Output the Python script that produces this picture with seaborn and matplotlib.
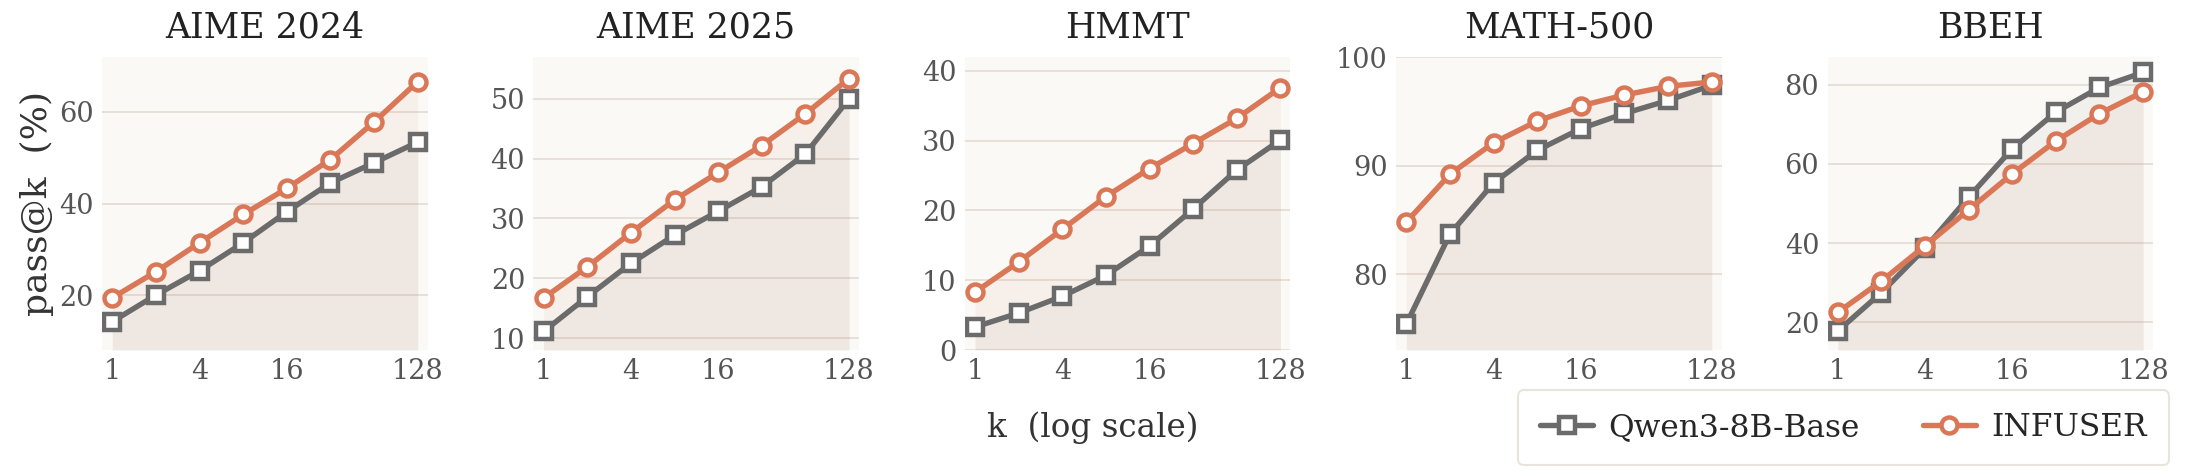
import matplotlib
matplotlib.use("Agg")
import matplotlib.pyplot as plt
import seaborn as sns
import pandas as pd

k = [1, 2, 4, 8, 16, 32, 64, 128]

benchmarks = ["AIME 2024", "AIME 2025", "HMMT", "MATH-500", "BBEH"]

base_aime24 = [14.2, 20.0, 25.3, 31.4, 38.2, 44.5, 48.9, 53.4]
infuser_aime24 = [19.4, 25.1, 31.4, 37.6, 43.3, 49.6, 57.8, 66.6]

base_aime25 = [11.1, 16.9, 22.5, 27.2, 31.2, 35.3, 40.8, 50.0]
infuser_aime25 = [16.7, 21.9, 27.6, 33.1, 37.7, 42.2, 47.5, 53.4]

base_hmmt = [3.3, 5.3, 7.7, 10.7, 14.9, 20.2, 25.8, 30.1]
infuser_hmmt = [8.3, 12.6, 17.3, 22.0, 26.0, 29.6, 33.2, 37.6]

base_math500 = [75.4, 83.7, 88.4, 91.4, 93.4, 94.8, 96.0, 97.4]
infuser_math500 = [84.8, 89.2, 92.1, 94.1, 95.5, 96.5, 97.3, 97.7]

base_bbeh = [17.8, 27.5, 38.7, 51.6, 63.8, 73.1, 79.3, 83.1]
infuser_bbeh = [22.5, 30.4, 39.3, 48.4, 57.5, 65.8, 72.7, 78.2]

base_all = [base_aime24, base_aime25, base_hmmt, base_math500, base_bbeh]
infuser_all = [infuser_aime24, infuser_aime25, infuser_hmmt, infuser_math500, infuser_bbeh]

ylims = [(8, 72), (8, 57), (0, 42), (73, 100), (13, 87)]
yticks = [[20, 40, 60], [10, 20, 30, 40, 50], [0, 10, 20, 30, 40], [80, 90, 100], [20, 40, 60, 80]]

gray = "#6b6b6b"
orange = "#d97757"

sns.set_theme(style="whitegrid")
plt.rcParams["font.family"] = ["DejaVu Serif"]

fig, axes = plt.subplots(1, 5, figsize=(21.85, 4.7), dpi=100)
fig.subplots_adjust(left=0.0467, right=0.9854, top=0.8787, bottom=0.2553, wspace=0.325)

for i, ax in enumerate(axes):
    ax.set_facecolor("#faf9f6")
    lo = ylims[i][0]
    ax.fill_between(k, lo, infuser_all[i], color=orange, alpha=0.07, lw=0, zorder=1)
    ax.fill_between(k, lo, base_all[i], color=gray, alpha=0.06, lw=0, zorder=1)
    sns.lineplot(x=k, y=base_all[i], ax=ax, color=gray, lw=3.9, marker="s",
                 markersize=11, markerfacecolor="white", markeredgecolor=gray,
                 markeredgewidth=3.2, label="Qwen3-8B-Base", zorder=3)
    sns.lineplot(x=k, y=infuser_all[i], ax=ax, color=orange, lw=3.9, marker="o",
                 markersize=11.5, markerfacecolor="white", markeredgecolor=orange,
                 markeredgewidth=3.2, label="INFUSER", zorder=4)
    ax.set_xscale("log", base=2)
    ax.set_xlim(0.85, 150)
    ax.set_xticks([1, 4, 16, 128])
    ax.set_xticklabels(["1", "4", "16", "128"])
    ax.minorticks_off()
    ax.set_ylim(*ylims[i])
    ax.set_yticks(yticks[i])
    ax.grid(axis="y", color="#e4dcd2", lw=1.2)
    ax.grid(axis="x", visible=False)
    for s in ax.spines.values():
        s.set_visible(False)
    ax.tick_params(axis="both", labelsize=19.5, colors="#555555", length=0, pad=6)
    ax.set_title(benchmarks[i], fontsize=25, color="#222222", pad=14)
    ax.set_xlabel("")
    ax.set_ylabel("")
    ax.get_legend().remove()

axes[0].set_ylabel("pass@k  (%)", fontsize=26, color="#333333", labelpad=4)
fig.text(0.5, 0.09, "k  (log scale)", ha="center", va="center", fontsize=23.5, color="#333333")

handles, labels = axes[0].get_legend_handles_labels()
leg = fig.legend(handles, labels, loc="center", bbox_to_anchor=(0.8437, 0.09), ncol=2,
                 fontsize=22.5, frameon=True, fancybox=True, handlelength=1.7,
                 columnspacing=2.0, borderpad=0.7, handletextpad=0.5)
leg.get_frame().set_edgecolor("#e2ded6")
leg.get_frame().set_linewidth(1.5)

fig.savefig("out.png", dpi=100, facecolor="white")
